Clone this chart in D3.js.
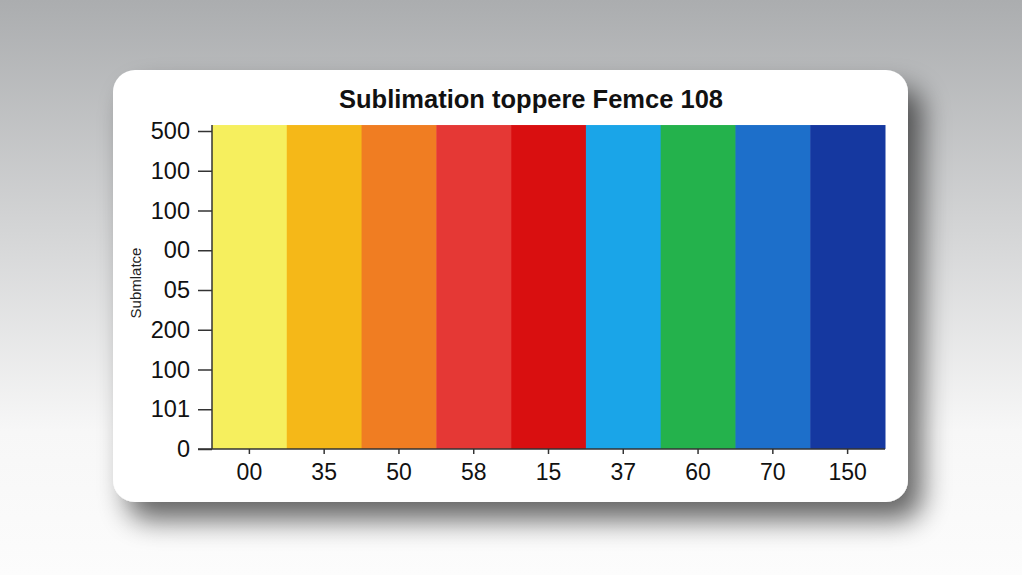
<!DOCTYPE html>
<html><head><meta charset="utf-8">
<script src="https://cdn.jsdelivr.net/npm/d3@7"></script>
<style>html,body{margin:0;padding:0;overflow:hidden;}svg{display:block;}</style>
</head><body>
<svg id="c" width="1022" height="575"></svg>
<script>
const categories = ["00","35","50","58","15","37","60","70","150"];
const values = [8.15,8.15,8.15,8.15,8.15,8.15,8.15,8.15,8.15];
const colors = ["#f6ef5e","#f5b818","#f07d22","#e53835","#d90f10","#1aa5e8","#24b24c","#1d6fca","#1538a0"];
const yTickLabels = ["0","101","100","200","05","00","100","100","500"];
const title = "Sublimation toppere Femce 108";
const yTitle = "Submlatce";

const svg = d3.select("#c");
const defs = svg.append("defs");
const bg = defs.append("linearGradient").attr("id","bg").attr("x1",0).attr("y1",0).attr("x2",0).attr("y2",1);
bg.append("stop").attr("offset","0%").attr("stop-color","#abadaf");
bg.append("stop").attr("offset","40%").attr("stop-color","#d4d5d6");
bg.append("stop").attr("offset","75%").attr("stop-color","#f7f7f7");
bg.append("stop").attr("offset","100%").attr("stop-color","#fcfcfc");
const f = defs.append("filter").attr("id","sh").attr("x","-20%").attr("y","-20%").attr("width","140%").attr("height","150%");
f.append("feGaussianBlur").attr("in","SourceAlpha").attr("stdDeviation",14);
f.append("feOffset").attr("dx",14).attr("dy",18).attr("result","b");
f.append("feComponentTransfer").append("feFuncA").attr("type","linear").attr("slope",0.6);
const m = f.append("feMerge"); m.append("feMergeNode"); m.append("feMergeNode").attr("in","SourceGraphic");

svg.append("rect").attr("width",1022).attr("height",575).attr("fill","url(#bg)");
svg.append("rect").attr("x",113).attr("y",70).attr("width",795).attr("height",432).attr("rx",22)
  .attr("fill","#ffffff").attr("filter","url(#sh)");

const L=212, R=885, T=125, B=449;
const x = d3.scaleBand().domain(categories).range([L,R]).padding(0);
const y = d3.scaleLinear().domain([0,8]).range([B,131]);

const g = svg.append("g");
g.selectAll("rect.bar").data(categories).join("rect").attr("class","bar")
  .attr("x",d=>x(d)).attr("width",x.bandwidth()+0.5)
  .attr("y",(d,i)=>y(values[i])).attr("height",(d,i)=>B-y(values[i]))
  .attr("fill",(d,i)=>colors[i]);

const fontF = "Liberation Sans, Arial, sans-serif";
const yAx = svg.append("g").attr("transform",`translate(${L},0)`)
  .call(d3.axisLeft(y).tickValues(d3.range(0,9)).tickFormat(i=>yTickLabels[i]).tickSize(14).tickPadding(8));
yAx.select(".domain").attr("d",`M0,${T}V${B}`).attr("stroke","#333").attr("stroke-width",1.5);
yAx.selectAll(".tick line").attr("stroke","#333").attr("stroke-width",1.5);
yAx.selectAll("text").attr("font-family",fontF).attr("font-size",23.5).attr("fill","#111");

const xAx = svg.append("g").attr("transform",`translate(0,${B})`)
  .call(d3.axisBottom(x).tickSize(5).tickPadding(10));
xAx.select(".domain").attr("d",`M${L-14},0H${R}`).attr("stroke","#333").attr("stroke-width",1.5);
xAx.selectAll(".tick line").attr("stroke","#333").attr("stroke-width",1.5);
xAx.selectAll("text").attr("font-family",fontF).attr("font-size",23).attr("fill","#111");

svg.append("text").attr("x",531).attr("y",108).attr("text-anchor","middle")
  .attr("font-family",fontF).attr("font-weight","bold").attr("font-size",25.5).attr("fill","#111").text(title);
svg.append("text").attr("transform","translate(141,283) rotate(-90)").attr("text-anchor","middle")
  .attr("font-family",fontF).attr("font-size",15).attr("fill","#222").text(yTitle);
</script>
</body></html>
